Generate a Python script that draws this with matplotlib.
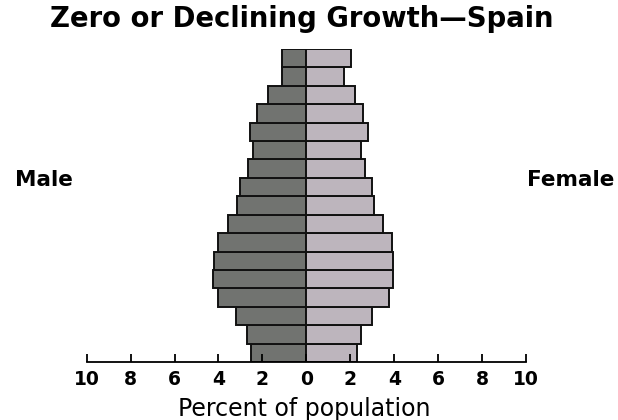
import matplotlib
matplotlib.use("Agg")
import matplotlib.pyplot as plt
import numpy as np

# Age groups from youngest (bottom) to oldest (top)
age_groups = ["0-4", "5-9", "10-14", "15-19", "20-24", "25-29", "30-34", "35-39",
              "40-44", "45-49", "50-54", "55-59", "60-64", "65-69", "70-74", "75-79", "80+"]
male = [2.5, 2.7, 3.2, 4.0, 4.25, 4.2, 4.0, 3.55, 3.15, 3.0, 2.65, 2.45, 2.55, 2.25, 1.75, 1.1, 1.1]
female = [2.3, 2.5, 3.0, 3.75, 3.95, 3.95, 3.9, 3.5, 3.1, 3.0, 2.65, 2.5, 2.8, 2.6, 2.2, 1.7, 2.05]
tick_values = [-10, -8, -6, -4, -2, 0, 2, 4, 6, 8, 10]
tick_labels = ["10", "8", "6", "4", "2", "0", "2", "4", "6", "8", "10"]

plt.rcParams['font.family'] = ['DejaVu Sans']

fig = plt.figure(figsize=(6.18, 4.20), dpi=100)
ax = fig.add_axes([86.7/618, (420-362)/420, (526-86.7)/618, (362-49)/420])

y = np.arange(len(age_groups))
ax.barh(y, [-m for m in male], height=1.0, align='edge', color='#717370',
        edgecolor='#111111', linewidth=1.4)
ax.barh(y, female, height=1.0, align='edge', color='#bdb5bd',
        edgecolor='#111111', linewidth=1.4)

ax.set_xlim(-10, 10)
ax.set_ylim(0, len(age_groups))
for s in ['top', 'left', 'right']:
    ax.spines[s].set_visible(False)
ax.spines['bottom'].set_linewidth(1.3)
ax.set_yticks([])
ax.set_xticks(tick_values)
ax.set_xticklabels(tick_labels, fontsize=13.5, fontweight='bold')
ax.tick_params(axis='x', direction='in', length=6, width=1.3, pad=6)

fig.text(304/618, (420-415.7)/420, "Percent of population", ha='center', va='baseline',
         fontsize=17)
fig.text(302/618, (420-26.7)/420, "Zero or Declining Growth\u2014Spain", ha='center',
         va='baseline', fontsize=19.8, fontweight='bold')
fig.text(15/618, (420-185.7)/420, "Male", ha='left', va='baseline', fontsize=15.5,
         fontweight='bold')
fig.text(614/618, (420-185.7)/420, "Female", ha='right', va='baseline', fontsize=15.5,
         fontweight='bold')

fig.savefig("out.png", dpi=100)
